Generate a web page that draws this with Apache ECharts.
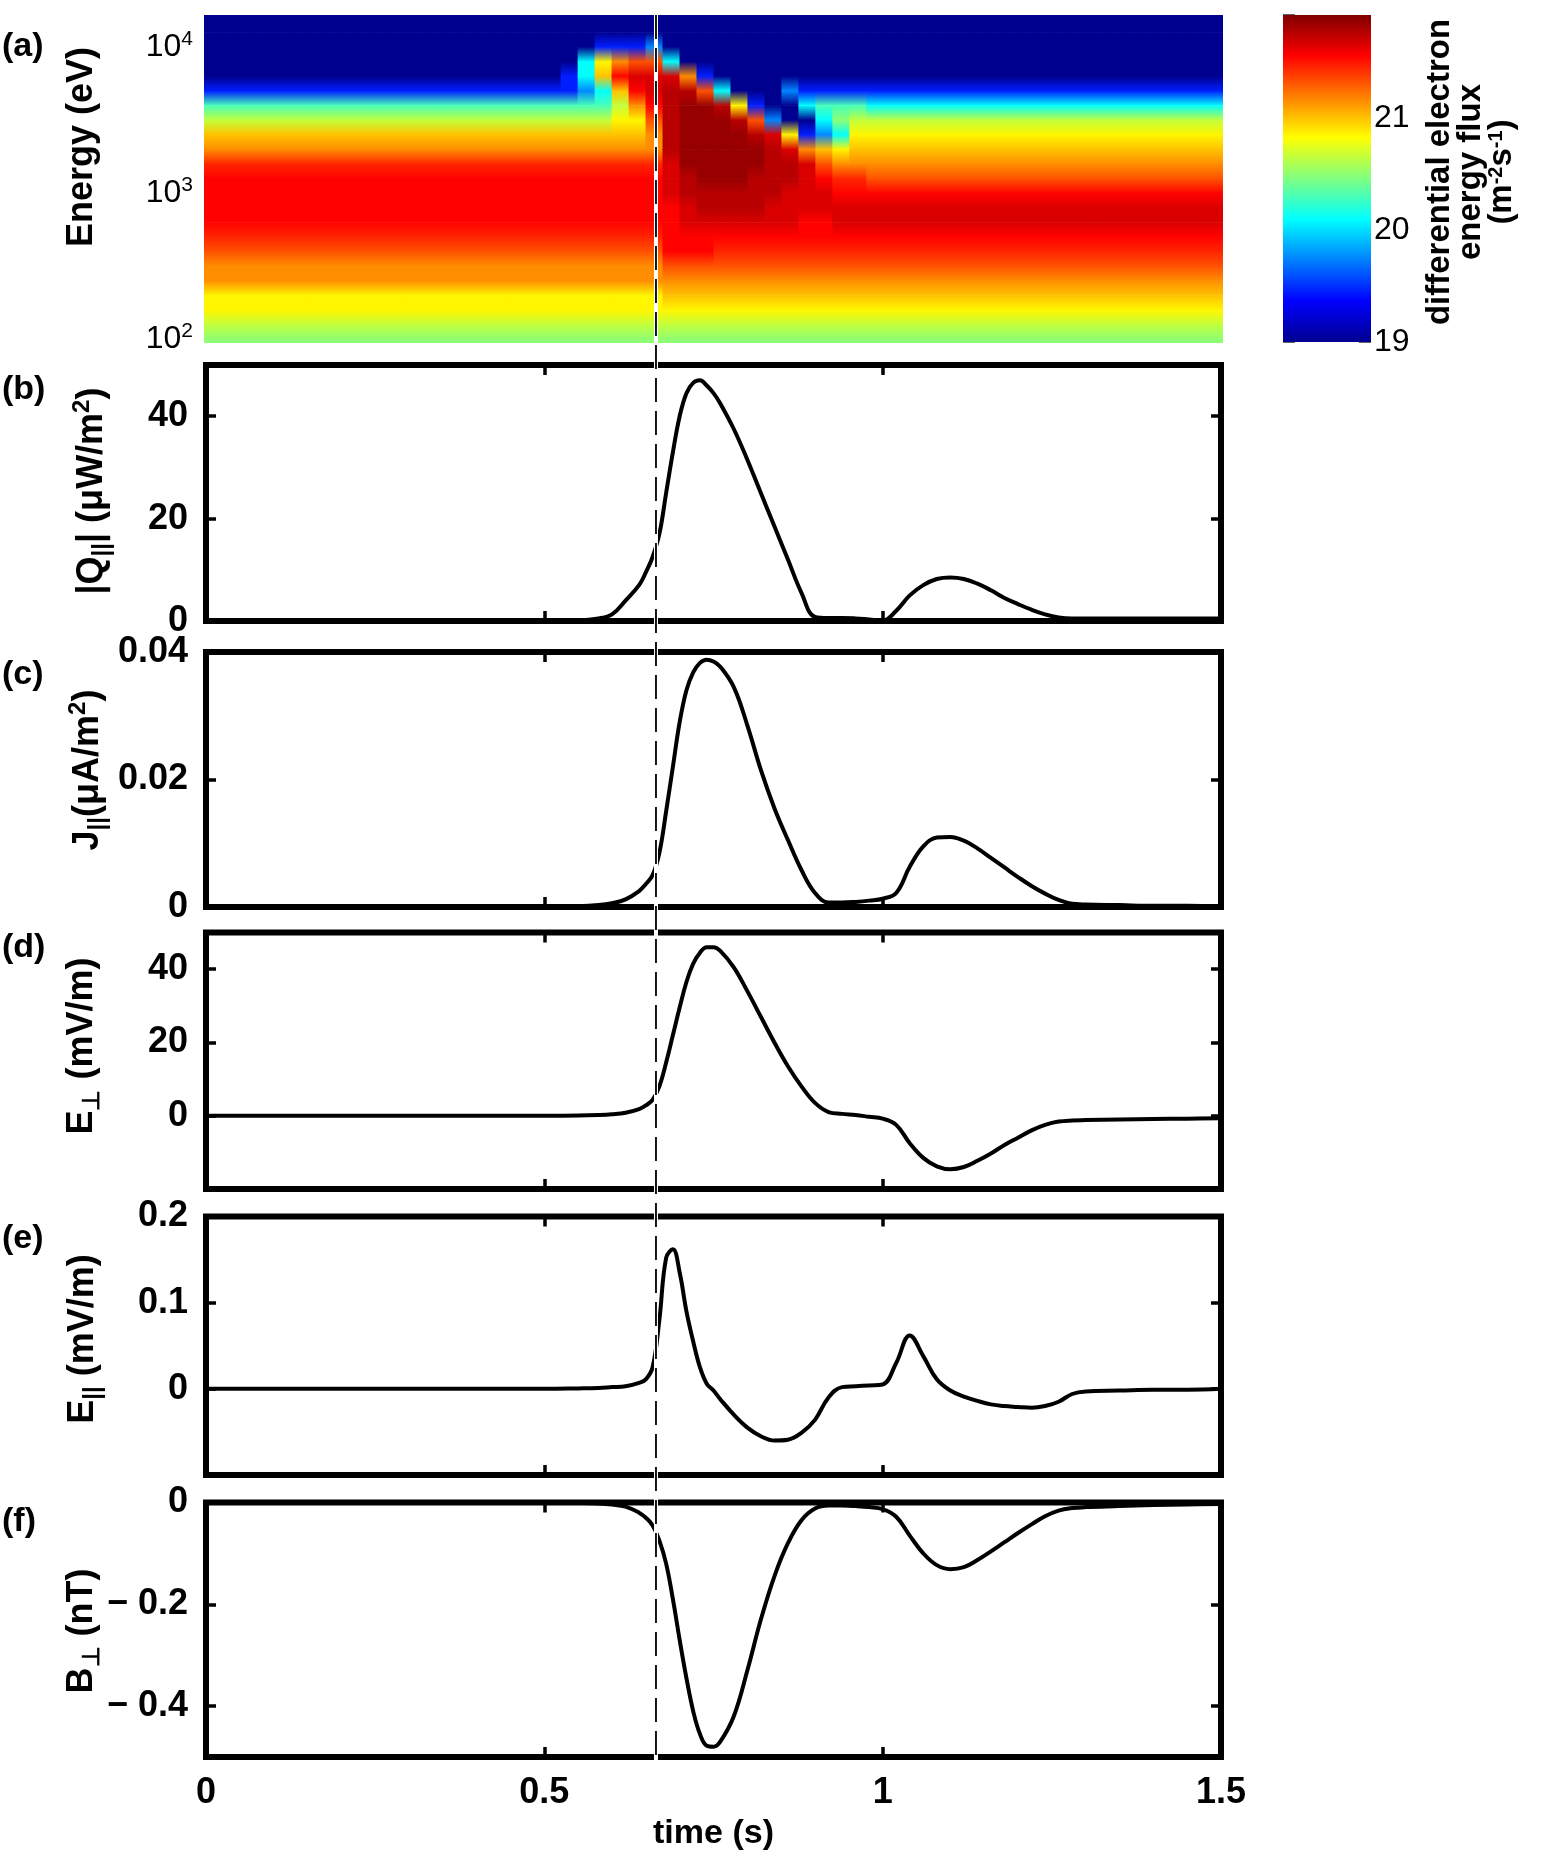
<!DOCTYPE html>
<html>
<head>
<meta charset="utf-8">
<script src="https://cdn.jsdelivr.net/npm/echarts@6/dist/echarts.min.js"></script>
<style>html,body{margin:0;padding:0;background:#fff}#c{width:1542px;height:1856px}</style>
</head>
<body>
<div id="c"></div>
<script>
// ---------------- DATA ----------------
// Panel (a): spectrogram, time bin edges (s)
const timeEdges = [0,0.025,0.05,0.075,0.1,0.125,0.15,0.175,0.2,0.225,0.25,0.275,0.3,0.325,0.35,0.375,0.4,0.425,0.45,0.475,0.5,
  0.525,0.55,0.575,0.6,0.625,0.65,0.675,0.7,0.725,0.75,0.775,0.8,0.825,0.85,0.875,0.9,0.925,0.95,0.975,1.0,
  1.025,1.05,1.075,1.1,1.125,1.15,1.175,1.2,1.225,1.25,1.275,1.3,1.325,1.35,1.375,1.4,1.425,1.45,1.475,1.5];
// log10(energy / eV) of the sampled rows, top to bottom
const energyLogCenters = [4.2,4.1,4.0,3.9,3.8,3.7,3.6,3.5,3.4,3.3,3.2,3.1,3.0,2.9,2.8,2.7,2.6,2.5,2.4,2.3,2.2,2.1,2.0];
// flux levels (log10 of differential electron energy flux)
const fluxLevels = {k:19.0,b:19.45,l:19.75,c:20.1,a:20.3,g:20.5,q:20.65,y:20.85,Y:21.0,o:21.15,O:21.32,e:21.45,r:21.55,R:21.66,d:21.76,D:21.85};
// one string per time bin; each character is one energy row (top -> bottom)
const fluxByTime = [
  "kkkkkbaqYoerrrreOooyyqg","kkkkkbaqYoerrrreOooyyqg","kkkkkbaqYoerrrreOooyyqg","kkkkkbaqYoerrrreOooyyqg",
  "kkkkkbaqYoerrrreOooyyqg","kkkkkbaqYoerrrreOooyyqg","kkkkkbaqYoerrrreOooyyqg","kkkkkbaqYoerrrreOooyyqg",
  "kkkkkbaqYoerrrreOooyyqg","kkkkkbaqYoerrrreOooyyqg","kkkkkbaqYoerrrreOooyyqg","kkkkkbaqYoerrrreOooyyqg",
  "kkkkkbaqYoerrrreOooyyqg","kkkkkbaqYoerrrreOooyyqg","kkkkkbaqYoerrrreOooyyqg","kkkkkbaqYoerrrreOooyyqg",
  "kkkkkbaqYoerrrreOooyyqg","kkkkkbaqYoerrrreOooyyqg","kkkkkbaqYoerrrreOooyyqg","kkkkkbaqYoerrrreOooyyqg",
  "kkkkkbaqYoerrrreOooyyqg",
  "kkkkbbaqYoerrrreOooyyqg",
  "kkkcclaqYoerrrreOooyyqg",
  "kkbyYcaqYoerrrreOooyyqg",
  "kkborYqyYoerrrreOooyyqg",
  "kkbORroyYoerrrreOooyyqg",
  "kklORRrOooerrrreOooyyqg",
  "kkkcRdddddRRRrrrrOoYyqg",
  "kkkkodDDDDDddRRrrOoYyqg",
  "kkkkbODDDDDDddRrrOoYyqg",
  "kkkkkcdDDDDDddRreOoYyqg",
  "kkkkkkydDDDDddRreOoYyqg",
  "kkkkkkbOdDDdddRreOoYyqg",
  "kkkkkkklRddddRRreOoYyqg",
  "kkkkklkkyRddRRRreOoYyqg",
  "kkkkkbckboRRRRrreOoYyqg",
  "kkkkkbaclYOrRRrreOoYyqg",
  "kkkkkbagcyoerRRreOoYyqg",
  "kkkkkbaqyYoerRRreOoYyqg",
  "kkkkkbcqyYoOrRRreOoYyqg",
  "kkkkkbcqyYoOrRRreOoYyqg","kkkkkbcqyYoOrRRreOoYyqg","kkkkkbcqyYoOrRRreOoYyqg","kkkkkbcqyYoOrRRreOoYyqg",
  "kkkkkbcqyYoOrRRreOoYyqg","kkkkkbcqyYoOrRRreOoYyqg","kkkkkbcqyYoOrRRreOoYyqg","kkkkkbcqyYoOrRRreOoYyqg",
  "kkkkkbcqyYoOrRRreOoYyqg","kkkkkbcqyYoOrRRreOoYyqg","kkkkkbcqyYoOrRRreOoYyqg","kkkkkbcqyYoOrRRreOoYyqg",
  "kkkkkbcqyYoOrRRreOoYyqg","kkkkkbcqyYoOrRRreOoYyqg","kkkkkbcqyYoOrRRreOoYyqg","kkkkkbcqyYoOrRRreOoYyqg",
  "kkkkkbcqyYoOrRRreOoYyqg","kkkkkbcqyYoOrRRreOoYyqg","kkkkkbcqyYoOrRRreOoYyqg","kkkkkbcqyYoOrRRreOoYyqg"
];
const colorbarRange = [19, 21.92];
const colorbarTicks = [19, 20, 21];

// Panels (b)-(f): time samples (s)
const time = [0,0.1,0.2,0.3,0.4,0.5,0.55,0.58,0.6,0.62,0.64,0.65,0.66,0.67,0.68,0.69,0.7,0.71,0.72,0.73,0.74,0.75,0.76,
  0.78,0.8,0.82,0.84,0.86,0.88,0.9,0.92,0.94,0.96,0.98,1.0,1.02,1.04,1.06,1.08,1.1,1.12,1.14,1.16,1.18,1.2,1.22,1.24,1.26,1.28,1.3,
  1.35,1.4,1.45,1.5];
const qPar = [0,0,0,0,0,0,0.1,0.5,1.3,4,7,9.5,12.5,17,25,33,40,44.5,46.5,47,46,44.5,42.5,
  37.5,31.5,25,18.5,12,5.5,0.8,0.6,0.6,0.5,0.3,0.1,2,5,7,8.2,8.5,8.2,7.3,6,4.5,3.3,2.2,1.3,0.7,0.5,0.5,
  0.5,0.5,0.5,0.5];
const jPar = [0,0,0,0,0,0,0.0001,0.0003,0.0006,0.0012,0.0025,0.0036,0.005,0.0085,0.015,0.022,0.029,0.034,0.0368,0.0383,0.0388,0.0385,0.0377,
  0.0345,0.0285,0.0215,0.0155,0.0105,0.0058,0.0022,0.0007,0.0007,0.0008,0.001,0.0013,0.0022,0.0063,0.0095,0.0109,0.011,0.0104,0.0092,0.0077,0.0062,0.0047,0.0033,0.0021,0.0011,0.0005,0.0004,
  0.0003,0.0002,0.0002,0.0001];
const ePerp = [0,0,0,0,0,0,0.05,0.2,0.4,0.8,1.8,2.8,4.3,8,14.5,22,29.5,36.5,41.5,44.5,46,46,45,
  40.5,34,27,20,13.5,8,3.5,1,0.5,0.2,-0.3,-0.8,-2.5,-7.5,-11.5,-13.8,-14.6,-14,-12.3,-10.3,-8,-6,-4,-2.5,-1.6,-1.3,-1.2,
  -1,-0.9,-0.8,-0.7];
const ePar = [0,0,0,0,0,0,0.0005,0.001,0.002,0.003,0.007,0.011,0.025,0.08,0.152,0.162,0.135,0.09,0.055,0.025,0.006,-0.002,-0.012,
  -0.03,-0.045,-0.055,-0.06,-0.059,-0.051,-0.036,-0.01,0.002,0.003,0.004,0.005,0.03,0.062,0.038,0.011,-0.002,-0.009,-0.014,-0.018,-0.02,-0.021,-0.022,-0.02,-0.015,-0.006,-0.003,
  -0.002,-0.001,-0.001,0];
const bPerp = [0,0,0,0,0,0,-0.001,-0.002,-0.004,-0.008,-0.02,-0.03,-0.045,-0.075,-0.12,-0.19,-0.27,-0.345,-0.41,-0.455,-0.478,-0.48,-0.47,
  -0.42,-0.33,-0.23,-0.145,-0.08,-0.035,-0.012,-0.006,-0.006,-0.007,-0.009,-0.013,-0.028,-0.065,-0.1,-0.123,-0.131,-0.127,-0.113,-0.096,-0.078,-0.06,-0.043,-0.027,-0.016,-0.011,-0.009,
  -0.007,-0.005,-0.004,-0.003];
const eventTime = 0.665;

// ---------------- CHART ----------------
const FONT = '"Liberation Sans", Arial, Helvetica, sans-serif';
const jet = ['#00008F','#0000FF','#0080FF','#00FFFF','#80FF80','#FFFF00','#FF8000','#FF0000','#800000'];

function hexRgb(h) { return [parseInt(h.slice(1,3),16), parseInt(h.slice(3,5),16), parseInt(h.slice(5,7),16)]; }
const jetRgb = jet.map(hexRgb);
function jetColor(v) {
  let p = (v - colorbarRange[0]) / (colorbarRange[1] - colorbarRange[0]);
  p = Math.max(0, Math.min(1, p)) * (jet.length - 1);
  const i = Math.min(jet.length - 2, Math.floor(p)), f = p - i;
  const a = jetRgb[i], b = jetRgb[i + 1];
  return 'rgb(' + [0,1,2].map(k => Math.round(a[k] + (b[k] - a[k]) * f)).join(',') + ')';
}

// cells: [t0, t1, Etop, Ebottom, fluxTop, fluxBottom]
const heatData = [];
fluxByTime.forEach((col, i) => {
  const n = col.length, t0 = timeEdges[i], t1 = timeEdges[i + 1];
  const v0 = fluxLevels[col[0]], vn = fluxLevels[col[n - 1]];
  heatData.push([t0, t1, Math.pow(10, energyLogCenters[0] + 0.05), Math.pow(10, energyLogCenters[0]), v0, v0]);
  for (let j = 0; j < n - 1; j++) {
    heatData.push([t0, t1, Math.pow(10, energyLogCenters[j]), Math.pow(10, energyLogCenters[j + 1]),
      fluxLevels[col[j]], fluxLevels[col[j + 1]]]);
  }
  heatData.push([t0, t1, Math.pow(10, energyLogCenters[n - 1]), Math.pow(10, energyLogCenters[n - 1] - 0.05), vn, vn]);
});

function clipRect(r, cs) {
  if (echarts.graphic && echarts.graphic.clipRectByRect) {
    return echarts.graphic.clipRectByRect(r, {x: cs.x, y: cs.y, width: cs.width, height: cs.height});
  }
  const x1 = Math.max(r.x, cs.x), y1 = Math.max(r.y, cs.y);
  const x2 = Math.min(r.x + r.width, cs.x + cs.width), y2 = Math.min(r.y + r.height, cs.y + cs.height);
  if (x2 <= x1 || y2 <= y1) return null;
  return {x: x1, y: y1, width: x2 - x1, height: y2 - y1};
}
function renderHeatCell(params, api) {
  const a = api.coord([api.value(0), api.value(2)]);
  const b = api.coord([api.value(1), api.value(3)]);
  const shape = clipRect({x: a[0], y: a[1], width: b[0] - a[0] + 1, height: b[1] - a[1] + 0.6}, params.coordSys);
  if (!shape) return;
  const c0 = jetColor(api.value(4)), c1 = jetColor(api.value(5));
  const fill = c0 === c1 ? c0 : new echarts.graphic.LinearGradient(0, 0, 0, 1, [{offset: 0, color: c0}, {offset: 1, color: c1}]);
  return {type: 'rect', shape: shape, style: {fill: fill}};
}
function renderColorbar(params, api) {
  const a = api.coord([api.value(0), api.value(3)]);
  const b = api.coord([api.value(1), api.value(2)]);
  const stops = jet.map((c, i) => ({offset: i / (jet.length - 1), color: c}));
  return {type: 'rect', shape: {x: a[0], y: a[1], width: b[0] - a[0], height: b[1] - a[1]},
    style: {fill: new echarts.graphic.LinearGradient(0, 1, 0, 0, stops)}};
}

const GL = 206, GW = 1015, BW = 6;
const grids = [
  {left: 204, top: 15, width: 1019, height: 328},
  {left: GL, top: 365, width: GW, height: 256, show: true, borderColor: '#000', borderWidth: BW},
  {left: GL, top: 652, width: GW, height: 255, show: true, borderColor: '#000', borderWidth: BW},
  {left: GL, top: 932.5, width: GW, height: 256.5, show: true, borderColor: '#000', borderWidth: BW},
  {left: GL, top: 1216.5, width: GW, height: 258.5, show: true, borderColor: '#000', borderWidth: BW},
  {left: GL, top: 1502.5, width: GW, height: 254.5, show: true, borderColor: '#000', borderWidth: BW},
  {left: 1283, top: 15, width: 88, height: 327}
];

const tickStyle = {inside: true, length: 10, lineStyle: {color: '#000', width: 3.5}};
const noLine = {show: false, onZero: false};
const labelFont = {fontFamily: FONT, fontWeight: 'bold', fontSize: 36, color: '#000'};

const xAxes = [{gridIndex: 0, type: 'value', min: 0, max: 1.5, show: false, axisLine: noLine}];
for (let g = 1; g <= 5; g++) {
  xAxes.push({gridIndex: g, type: 'value', min: 0, max: 1.5, interval: 0.5, position: 'bottom',
    axisLine: noLine, axisTick: tickStyle, splitLine: {show: false},
    axisLabel: g === 5 ? Object.assign({margin: 18}, labelFont) : {show: false},
    name: g === 5 ? 'time (s)' : '', nameLocation: 'middle', nameGap: 60,
    nameTextStyle: {fontFamily: FONT, fontWeight: 'bold', fontSize: 34, color: '#000'}});
}
for (let g = 1; g <= 5; g++) {
  xAxes.push({gridIndex: g, type: 'value', min: 0, max: 1.5, interval: 0.5, position: 'top',
    axisLine: noLine, axisTick: tickStyle, splitLine: {show: false}, axisLabel: {show: false}});
}
xAxes.push({gridIndex: 6, type: 'value', min: 0, max: 1, show: false, axisLine: noLine});

const panelY = [
  {min: 0, max: 50, interval: 20, showMinLabel: true, showMaxLabel: false},
  {min: 0, max: 0.04, interval: 0.02, showMinLabel: true, showMaxLabel: true},
  {min: -20, max: 50, interval: 20, showMinLabel: false, showMaxLabel: false},
  {min: -0.1, max: 0.2, interval: 0.1, showMinLabel: false, showMaxLabel: true},
  {min: -0.5, max: 0, splitNumber: 3, showMinLabel: false, showMaxLabel: true,
    formatter: v => (v < 0 ? '\u2212 ' + String(+Math.abs(v).toFixed(3)) : '0')}
];

const yAxes = [{
  gridIndex: 0, type: 'log', logBase: 10, min: 94, max: 16500,
  axisLine: noLine, axisTick: {show: false}, splitLine: {show: false},
  axisLabel: {
    showMinLabel: false, showMaxLabel: false, margin: 11,
    formatter: v => {
      const l = Math.log10(v), e = Math.round(l);
      if (Math.abs(l - e) > 1e-6) return '';
      return '{b|10}{p|' + e + '}';
    },
    rich: {
      b: {fontFamily: FONT, fontSize: 32, lineHeight: 36, color: '#000'},
      p: {fontFamily: FONT, fontSize: 21, lineHeight: 18, verticalAlign: 'top', color: '#000'}
    }
  }
}];
panelY.forEach((p, i) => {
  const lab = Object.assign({margin: 18, showMinLabel: p.showMinLabel, showMaxLabel: p.showMaxLabel}, labelFont);
  if (p.formatter) lab.formatter = p.formatter;
  const ax = {gridIndex: i + 1, type: 'value', min: p.min, max: p.max, position: 'left',
    axisLine: noLine, axisTick: tickStyle, splitLine: {show: false}, axisLabel: lab};
  if (p.interval) ax.interval = p.interval; else ax.splitNumber = p.splitNumber;
  yAxes.push(ax);
});
panelY.forEach((p, i) => {
  const ax = {gridIndex: i + 1, type: 'value', min: p.min, max: p.max, position: 'right',
    axisLine: noLine, axisTick: tickStyle, splitLine: {show: false}, axisLabel: {show: false}};
  if (p.interval) ax.interval = p.interval; else ax.splitNumber = p.splitNumber;
  yAxes.push(ax);
});
yAxes.push({gridIndex: 6, type: 'value', min: colorbarRange[0], max: colorbarRange[1], interval: 0.5, position: 'right',
  axisLine: noLine, splitLine: {show: false},
  axisTick: {inside: true, length: 12, lineStyle: {color: '#333', width: 1.5}},
  axisLabel: {margin: 3, showMaxLabel: false, fontFamily: FONT, fontSize: 32, color: '#000',
    formatter: v => (colorbarTicks.indexOf(Math.round(v * 100) / 100) >= 0 ? String(Math.round(v)) : '')}});
yAxes.push({gridIndex: 6, type: 'value', min: colorbarRange[0], max: colorbarRange[1], interval: 0.5, position: 'left',
  axisLine: noLine, splitLine: {show: false}, axisLabel: {show: false},
  axisTick: {inside: true, length: 12, lineStyle: {color: '#333', width: 1.5}}});

const lineSets = [qPar, jPar, ePerp, ePar, bPerp];
const series = [{
  type: 'custom', name: 'flux', xAxisIndex: 0, yAxisIndex: 0, data: heatData,
  encode: {x: [0, 1], y: [2, 3]}, renderItem: renderHeatCell, silent: true, z: 1
}];
lineSets.forEach((arr, i) => {
  series.push({type: 'line', xAxisIndex: i + 1, yAxisIndex: i + 1,
    data: time.map((t, k) => [t, arr[k]]), showSymbol: false, smooth: 0.4,
    clip: true, lineStyle: {color: '#000', width: 4, join: 'round', cap: 'round'}, z: 3});
});
series.push({type: 'custom', name: 'colorbar', xAxisIndex: 11, yAxisIndex: 11,
  data: [[0, 1, colorbarRange[0], colorbarRange[1]]], encode: {x: [0, 1], y: [2, 3]},
  renderItem: renderColorbar, silent: true});

const titleRich = {
  m: {fontFamily: FONT, fontWeight: 'bold', fontSize: 36, lineHeight: 44, color: '#000'},
  sub: {fontFamily: FONT, fontWeight: 'bold', fontSize: 24, lineHeight: 18, verticalAlign: 'bottom', color: '#000'},
  sup: {fontFamily: FONT, fontWeight: 'bold', fontSize: 24, lineHeight: 18, verticalAlign: 'top', color: '#000'}
};
function vTitle(id, x, y, text) {
  return {id: id, type: 'text', x: x, y: y, rotation: Math.PI / 2, z: 10,
    style: {text: text, rich: titleRich, align: 'center', verticalAlign: 'middle'}};
}
function letter(id, y, t) {
  return {id: id, type: 'text', x: 2, y: y, z: 10,
    style: {text: t, font: 'bold 34px ' + FONT, fill: '#000', align: 'left', verticalAlign: 'middle'}};
}
const graphics = [
  letter('la', 47, '(a)'), letter('lb', 390, '(b)'), letter('lc', 675, '(c)'),
  letter('ld', 948, '(d)'), letter('le', 1239, '(e)'), letter('lf', 1522, '(f)'),
  vTitle('ta', 82, 147, '{m|Energy (eV)}'),
  vTitle('tb', 92, 491, '{m||Q}{sub|||}{m|| (\u03bcW/m}{sup|2}{m|)}'),
  vTitle('tc', 88, 770, '{m|J}{sub|||}{m|(\u03bcA/m}{sup|2}{m|)}'),
  vTitle('td', 82, 1046, '{m|E}{sub|\u22a5}{m| (mV/m)}'),
  vTitle('te', 83, 1339, '{m|E}{sub|||}{m| (mV/m)}'),
  vTitle('tf', 82, 1631, '{m|B}{sub|\u22a5}{m| (nT)}'),
  {id: 'cbt', type: 'text', x: 1471, y: 172, rotation: Math.PI / 2, z: 10,
    style: {text: '{t|differential electron}\n{t|energy flux}\n{t|(m}{s|-2}{t|s}{s|-1}{t|)}',
      align: 'center', verticalAlign: 'middle',
      rich: {t: {fontFamily: FONT, fontWeight: 'bold', fontSize: 33, lineHeight: 31, color: '#000'},
             s: {fontFamily: FONT, fontWeight: 'bold', fontSize: 20, lineHeight: 14, verticalAlign: 'top', color: '#000'}}}}
];

const chart = echarts.init(document.getElementById('c'), null, {renderer: 'canvas'});
chart.setOption({
  backgroundColor: '#fff',
  animation: false,
  grid: grids,
  xAxis: xAxes,
  yAxis: yAxes,
  series: series,
  graphic: graphics
});

const xEv = chart.convertToPixel({xAxisIndex: 1}, eventTime);
chart.setOption({
  graphic: graphics.concat([
    {id: 'evW', type: 'line', z: 50, shape: {x1: xEv, y1: 15, x2: xEv, y2: 1760}, style: {stroke: '#fff', lineWidth: 4}},
    {id: 'evD', type: 'line', z: 51, shape: {x1: xEv, y1: 15, x2: xEv, y2: 1760}, style: {stroke: '#000', lineWidth: 1.8, lineDash: [24, 9]}}
  ])
});
</script>
</body>
</html>
